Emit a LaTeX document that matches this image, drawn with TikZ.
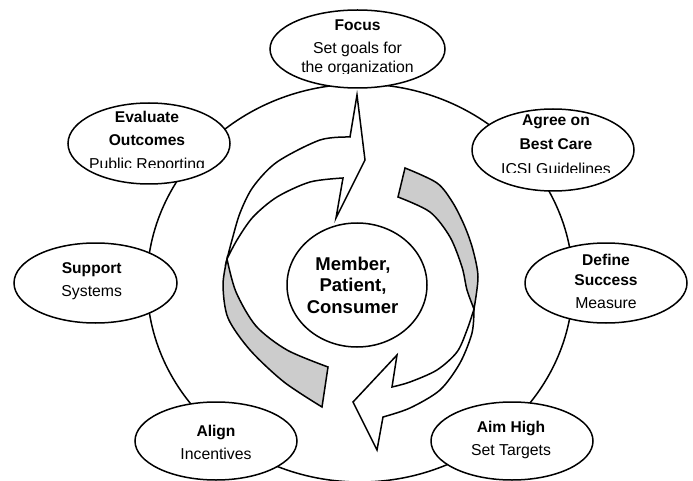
\documentclass[tikz,border=0pt]{standalone}
\usepackage{fontspec}
\setmainfont{Liberation Sans}
\usetikzlibrary{shapes.geometric}
\definecolor{backgray}{RGB}{204,204,204}
\begin{document}
\begin{tikzpicture}[x=1pt,y=-1pt,
  line width=1.5pt,
  bubble/.style={ellipse, draw, fill=white, inner sep=0pt},
  headtext/.style={font=\fontsize{15.6}{18}\selectfont\bfseries, anchor=base, inner sep=0pt},
  subtext/.style={font=\fontsize{15.8}{18}\selectfont, anchor=base, inner sep=0pt},
  hubtext/.style={font=\fontsize{18.5}{21}\selectfont\bfseries, anchor=base, inner sep=0pt},
  ribbonfront/.style={draw, fill=white},
  ribbonback/.style={draw, fill=backgray}
]
\useasboundingbox (0,0) rectangle (693,481);

% the ring that links the stages
\draw (360,283) ellipse [x radius=213pt, y radius=199pt];

% upper-left turning arrow: grey back of the ribbon
\draw[ribbonback] plot[smooth] coordinates {(227,259) (223,285) (228,318) (250,350) (284,382) (322,407)}
  -- (328,367)
  -- plot[smooth] coordinates {(328,367) (287,350) (256,326) (236,292) (227,259)} -- cycle;
% upper-left turning arrow: white front with its head
\draw[ribbonfront] plot[smooth] coordinates {(227,259) (232,240) (240,213) (253,187) (277,162) (320,140) (350,137)}
  -- (357,95) -- (365,160) -- (336,218) -- (343,178)
  -- plot[smooth] coordinates {(343,178) (310,182) (277,197) (253,217) (237,240) (227,259)} -- cycle;

% lower-right turning arrow: grey back of the ribbon
\draw[ribbonback] plot[smooth] coordinates {(405,168) (437,183) (453,203) (465,227) (473,250) (478,277) (474,309)}
  -- plot[smooth] coordinates {(474,309) (467,290) (462,267) (450,237) (430,212) (398,197)} -- cycle;
% lower-right turning arrow: white front with its head
\draw[ribbonfront] plot[smooth] coordinates {(474,309) (472,333) (460,363) (440,390) (410,408) (383,417)}
  -- (377,450) -- (353,402) -- (397,355) -- (392,387)
  -- plot[smooth] coordinates {(392,387) (410,382) (437,370) (457,352) (467,330) (474,309)} -- cycle;

% stage bubbles
\node[bubble, minimum width=175pt, minimum height=78pt] (focus) at (357.5,49) {};
\node[bubble, minimum width=162pt, minimum height=82pt] (agree) at (553,150) {};
\node[bubble, minimum width=162pt, minimum height=80pt] (define) at (606,283) {};
\node[bubble, minimum width=162pt, minimum height=78pt] (aim) at (512,441) {};
\node[bubble, minimum width=162pt, minimum height=78pt] (align) at (216,441) {};
\node[bubble, minimum width=163pt, minimum height=80pt] (support) at (95.5,283) {};
\node[bubble, minimum width=162pt, minimum height=81pt] (evaluate) at (149,143.5) {};
\node[bubble, minimum width=140pt, minimum height=124pt] (hub) at (357,285) {};

% stage labels; the last line of some bubbles is cut off at the bottom
\node[headtext] (focusA) at (357.5,31) {Focus};
\node[subtext] (focusB) at (357.5,54) {Set goals for};
\begin{scope}
  \clip (250,58) rectangle (465,74);
  \node[subtext] (focusC) at (357.5,73) {the organization};
\end{scope}

\node[headtext] (agreeA) at (556,126) {Agree on};
\node[headtext] (agreeB) at (556,150) {Best Care};
\begin{scope}
  \clip (470,155) rectangle (640,172.3);
  \node[subtext] (agreeC) at (556,174.8) {ICSI Guidelines};
\end{scope}

\node[headtext] (evalA) at (147,122.3) {Evaluate};
\node[headtext] (evalB) at (147,146) {Outcomes};
\begin{scope}
  \clip (60,150) rectangle (235,167.5);
  \node[subtext] (evalC) at (147,169.8) {Public Reporting};
\end{scope}

\node[headtext] (defineA) at (606,265.3) {Define};
\node[headtext] (defineB) at (606,285) {Success};
\node[subtext] (defineC) at (606,308.3) {Measure};

\node[headtext] (supportA) at (91.7,273.3) {Support};
\node[subtext] (supportB) at (91.7,296) {Systems};

\node[headtext] (alignA) at (216,436.7) {Align};
\node[subtext] (alignB) at (216,459.3) {Incentives};

\node[headtext] (aimA) at (511,432.7) {Aim High};
\node[subtext] (aimB) at (511,455) {Set Targets};

\node[hubtext] (hubA) at (353,270.7) {Member,};
\node[hubtext] (hubB) at (353,291.7) {Patient,};
\node[hubtext] (hubC) at (352.5,313.3) {Consumer};
\end{tikzpicture}
\end{document}
